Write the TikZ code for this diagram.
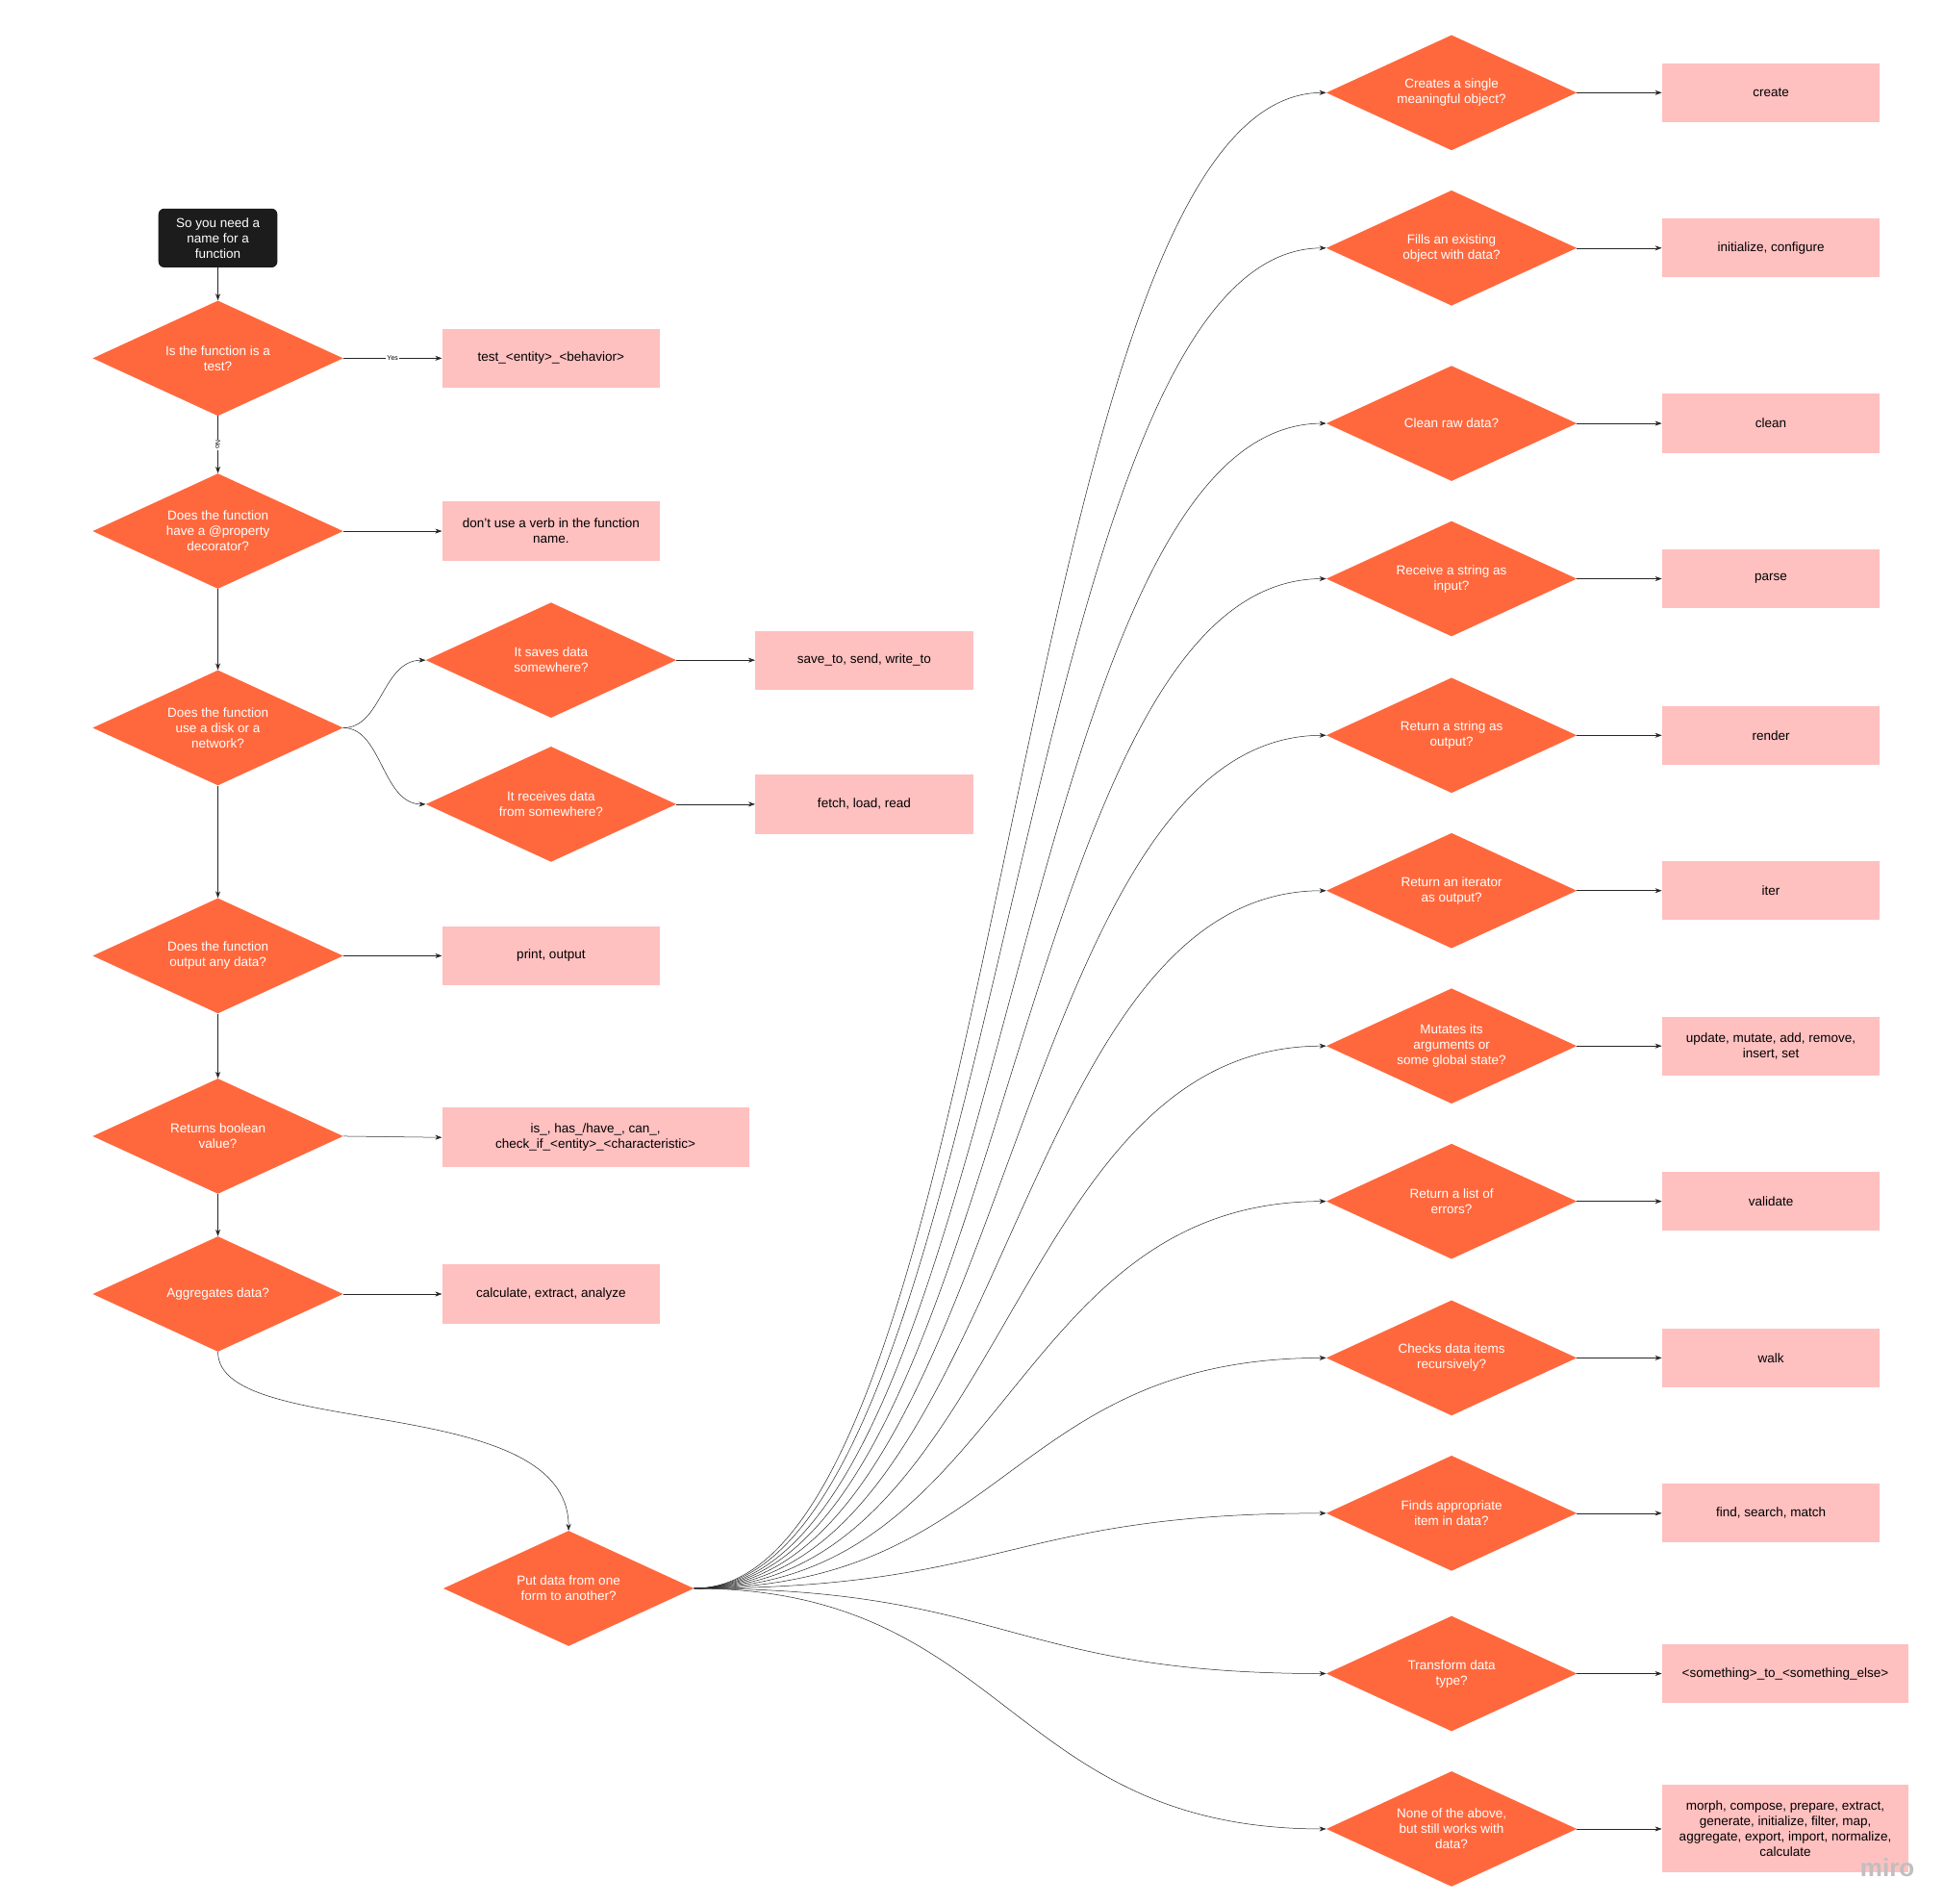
\documentclass[tikz,border=0pt]{standalone}
\usepackage{fontspec}
\setmainfont{Liberation Sans}
\usetikzlibrary{shapes.geometric,arrows.meta}
\definecolor{orng}{HTML}{FF683D}
\definecolor{pnk}{HTML}{FFC0C0}
\definecolor{blk}{HTML}{1C1C1C}
\begin{document}
\begin{tikzpicture}[x=1.302pt,y=-1.302pt,
  dia/.style={diamond,fill=orng,inner sep=0pt,minimum width=260.4pt,minimum height=119.8pt},
  dtext/.style={text=white,align=center,font=\fontsize{13.5}{16}\selectfont},
  pbox/.style={fill=pnk,minimum width=226.5pt,minimum height=61.2pt,align=center,inner sep=0pt,font=\fontsize{13.5}{16}\selectfont},
  arr/.style={-{Stealth[length=7pt,width=5pt]},line width=0.5pt,draw=black!85},
  lab/.style={fill=white,inner sep=1pt,font=\fontsize{7}{8}\selectfont}]
\useasboundingbox[fill=white] (0,0) rectangle (1552.2,1519.2);
% start
\node[fill=blk,rounded corners=6pt,minimum width=123.7pt,minimum height=61.2pt,text=white,align=center,font=\fontsize{13.5}{16}\selectfont,inner sep=0pt] (s) at (174,190) {So you need a\\name for a\\function};
% left column
\node[dia] (d1) at (174,286) {}; \node[dtext] at (d1) {Is the function is a\\test?};
\node[dia] (d2) at (174,424) {}; \node[dtext] at (d2) {Does the function\\have a @property\\decorator?};
\node[dia] (d3) at (174,581) {}; \node[dtext] at (d3) {Does the function\\use a disk or a\\network?};
\node[dia] (d4) at (174,763) {}; \node[dtext] at (d4) {Does the function\\output any data?};
\node[dia] (d5) at (174,907) {}; \node[dtext] at (d5) {Returns boolean\\value?};
\node[dia] (d6) at (174,1033) {}; \node[dtext] at (d6) {Aggregates data?};
\node[pbox] (b1) at (440,286) {test\_<entity>\_<behavior>};
\node[pbox] (b2) at (440,424) {don't use a verb in the function\\name.};
\node[pbox] (b4) at (440,763) {print, output};
\node[pbox,minimum width=319pt,minimum height=62.5pt] (b5) at (475.5,908) {is\_, has\_/have\_, can\_,\\check\_if\_<entity>\_<characteristic>};
\node[pbox] (b6) at (440,1033) {calculate, extract, analyze};
% middle
\node[dia] (m1) at (440,527) {}; \node[dtext] at (m1) {It saves data\\somewhere?};
\node[dia] (m2) at (440,642) {}; \node[dtext] at (m2) {It receives data\\from somewhere?};
\node[pbox] (mb1) at (690,527) {save\_to, send, write\_to};
\node[pbox] (mb2) at (690,642) {fetch, load, read};
\node[dia] (p) at (454,1268) {}; \node[dtext] at (p) {Put data from one\\form to another?};
% right column
\foreach \n/\y/\t in {r1/74/{Creates a single\\meaningful object?},
 r2/198/{Fills an existing\\object with data?},
 r3/338/{Clean raw data?},
 r4/462/{Receive a string as\\input?},
 r5/587/{Return a string as\\output?},
 r6/711/{Return an iterator\\as output?},
 r7/835/{Mutates its\\arguments or\\some global state?},
 r8/959/{Return a list of\\errors?},
 r9/1084/{Checks data items\\recursively?},
 r10/1208/{Finds appropriate\\item in data?},
 r11/1336/{Transform data\\type?},
 r12/1460/{None of the above,\\but still works with\\data?}}{
 \node[dia] (\n) at (1159,\y) {}; \node[dtext] at (\n) {\t};
 \draw[arr] (p.east) .. controls (805,1268) and (805,\y) .. (\n.west);
}
\foreach \n/\y/\t in {1/74/{create},2/198/{initialize, configure},3/338/{clean},4/462/{parse},5/587/{render},6/711/{iter},7/835/{update, mutate, add, remove,\\insert, set},8/959/{validate},9/1084/{walk},10/1208/{find, search, match}}{
 \node[pbox] (rb\n) at (1414,\y) {\t};
 \draw[arr] (r\n.east) -- (rb\n.west);
}
\node[pbox,minimum width=256.5pt] (rb11) at (1425.5,1336) {<something>\_to\_<something\_else>};
\node[pbox,minimum width=256.5pt,minimum height=91pt] (rb12) at (1425.5,1460) {morph, compose, prepare, extract,\\generate, initialize, filter, map,\\aggregate, export, import, normalize,\\calculate};
\draw[arr] (r11.east) -- (rb11.west);
\draw[arr] (r12.east) -- (rb12.west);
% connectors left
\draw[arr] (s) -- (d1);
\draw[arr] (d1) -- node[lab]{Yes} (b1);
\draw[arr] (d1) -- node[lab,rotate=-90]{No} (d2);
\draw[arr] (d2) -- (b2);
\draw[arr] (d2) -- (d3);
\draw[arr] (d3) -- (d4);
\draw[arr] (d4) -- (b4);
\draw[arr] (d4) -- (d5);
\draw[arr] (d5.east) -- (b5.west);
\draw[arr] (d5) -- (d6);
\draw[arr] (d6) -- (b6);
\draw[arr] (d3.east) .. controls (305,581) and (305,527) .. (m1.west);
\draw[arr] (d3.east) .. controls (305,581) and (305,642) .. (m2.west);
\draw[arr] (m1) -- (mb1);
\draw[arr] (m2) -- (mb2);
\draw[arr] (d6.south) .. controls (174,1150) and (454,1110) .. (p.north);
\node[text=black!25,font=\fontsize{26}{26}\selectfont\bfseries] (miro) at (1507,1491) {miro};
\end{tikzpicture}
\end{document}
